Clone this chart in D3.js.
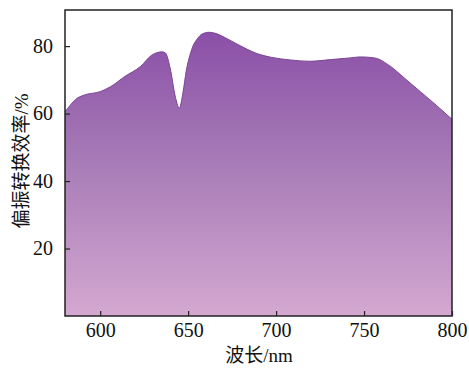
<!DOCTYPE html>
<html>
<head>
<meta charset="utf-8">
<script src="https://cdn.jsdelivr.net/npm/d3@7"></script>
<style>
  body { margin: 0; background: #fff; }
  text { font-family: "Liberation Serif", "Noto Sans CJK SC", serif; }
</style>
</head>
<body>
<div id="chart"></div>
<script>
// wavelength (nm) and conversion efficiency (%)
const wavelength = [580, 583, 586, 591, 600, 606, 614, 623, 629, 632, 635, 637,
  640, 642.5, 645, 647, 649, 651, 653, 655, 658, 662, 666, 671, 680, 688, 697,
  708, 719, 731, 742, 748, 756, 765, 773, 782, 791, 800];
const efficiency = [60.5, 62.5, 64.2, 65.5, 66.5, 68, 71, 74, 77.2, 78, 78.3, 78,
  72.9, 65.5, 61.6, 66, 72.9, 77.3, 80.3, 82, 83.6, 84.1, 83.7, 82.5, 80, 78, 76.7,
  75.9, 75.5, 76, 76.5, 76.8, 76.5, 74, 70.5, 66.5, 62.5, 58.3];
const xTicks = [600, 650, 700, 750, 800];
const yTicks = [20, 40, 60, 80];
const xLabel = "波长/nm";
const yLabel = "偏振转换效率/%";

const W = 469, H = 369;
const margin = {left: 65, right: 17, top: 10, bottom: 53};
const iw = W - margin.left - margin.right;
const ih = H - margin.top - margin.bottom;

const svg = d3.select("#chart").append("svg")
    .attr("width", W)
    .attr("height", H);

const x = d3.scaleLinear().domain([580, 800]).range([0, iw]);
const y = d3.scaleLinear().domain([0, 90.7]).range([ih, 0]);

const defs = svg.append("defs");
const grad = defs.append("linearGradient")
    .attr("id", "fillGrad")
    .attr("gradientUnits", "userSpaceOnUse")
    .attr("x1", 0).attr("y1", y(85))
    .attr("x2", 0).attr("y2", y(0));
grad.append("stop").attr("offset", "0%").attr("stop-color", "#8a4ea7");
grad.append("stop").attr("offset", "45%").attr("stop-color", "#a67ab6");
grad.append("stop").attr("offset", "100%").attr("stop-color", "#d4a8d0");

const g = svg.append("g")
    .attr("transform", `translate(${margin.left},${margin.top})`);

const data = wavelength.map((w, i) => ({w: w, v: efficiency[i]}));

const area = d3.area()
    .x(d => x(d.w))
    .y0(y(0))
    .y1(d => y(d.v))
    .curve(d3.curveMonotoneX);

g.append("path")
    .datum(data)
    .attr("d", area)
    .attr("fill", "url(#fillGrad)");

g.append("path")
    .datum(data)
    .attr("d", d3.line().x(d => x(d.w)).y(d => y(d.v)).curve(d3.curveMonotoneX))
    .attr("fill", "none")
    .attr("stroke", "#7b4595")
    .attr("stroke-width", 1);

// axes with inward ticks
const xAxis = g.append("g")
    .attr("transform", `translate(0,${ih})`)
    .call(d3.axisBottom(x).tickValues(xTicks).tickSizeInner(-5).tickSizeOuter(0).tickPadding(7));
const yAxis = g.append("g")
    .call(d3.axisLeft(y).tickValues(yTicks).tickSizeInner(-5).tickSizeOuter(0).tickPadding(12));

[xAxis, yAxis].forEach(a => {
    a.select(".domain").remove();
    a.selectAll("line").attr("stroke", "#222").attr("stroke-width", 1.2);
    a.selectAll("text")
        .attr("fill", "#111")
        .style("font-size", "20px")
        .style("font-family", "'Liberation Serif', serif");
});

// frame
g.append("rect")
    .attr("x", 0).attr("y", 0)
    .attr("width", iw).attr("height", ih)
    .attr("fill", "none")
    .attr("stroke", "#222")
    .attr("stroke-width", 1.5);

svg.append("text")
    .attr("x", 259)
    .attr("y", 362)
    .attr("text-anchor", "middle")
    .attr("fill", "#111")
    .style("font-size", "19px")
    .text(xLabel);

svg.append("text")
    .attr("transform", "translate(28,161) rotate(-90)")
    .attr("text-anchor", "middle")
    .attr("fill", "#111")
    .style("font-size", "19px")
    .text(yLabel);
</script>
</body>
</html>
